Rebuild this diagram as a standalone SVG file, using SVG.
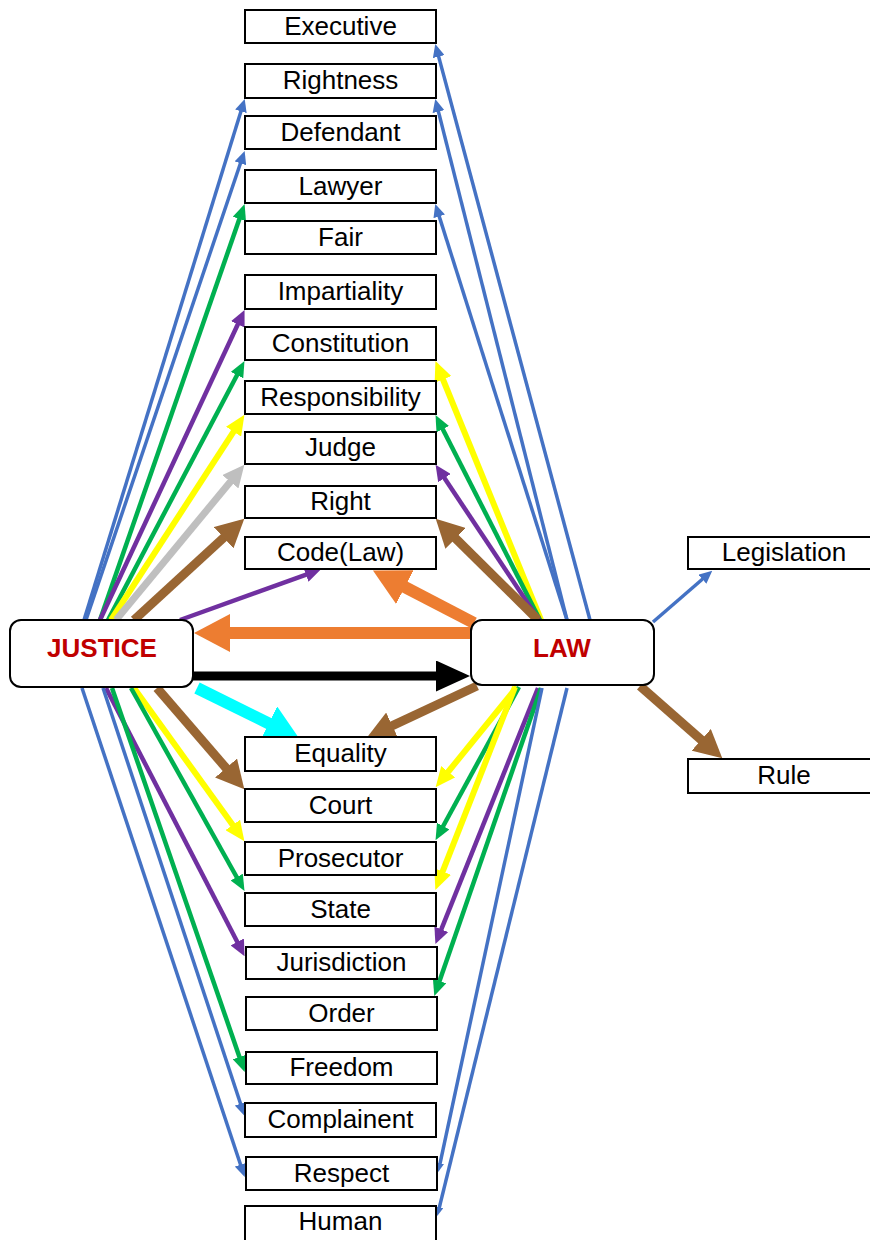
<svg xmlns="http://www.w3.org/2000/svg" width="870" height="1240" viewBox="0 0 870 1240">
<style>
.box{fill:#fff;stroke:#000;stroke-width:2}
.t{font-family:"Liberation Sans",Arial,sans-serif;font-size:26px;text-anchor:middle;fill:#000}
.ht{font-family:"Liberation Sans",Arial,sans-serif;font-size:26px;font-weight:bold;text-anchor:middle;fill:#C00000}
#connectors path{fill:none;stroke-linecap:butt}
.blue{stroke:#4472C4;stroke-width:3.5;marker-end:url(#mBlue)}
.blueS{stroke:#4472C4;stroke-width:3.5;marker-end:url(#mBlueS)}
.green{stroke:#00B050;stroke-width:4.5;marker-end:url(#mGreen)}
.purple{stroke:#7030A0;stroke-width:4.5;marker-end:url(#mPurple)}
.yellow{stroke:#FFFF00;stroke-width:6;marker-end:url(#mYellow)}
.gray{stroke:#BFBFBF;stroke-width:7;marker-end:url(#mGray)}
.brown{stroke:#996633;stroke-width:9;marker-end:url(#mBrown)}
.orange{stroke:#ED7D31;stroke-width:12;marker-end:url(#mOrange)}
.black{stroke:#000;stroke-width:9;marker-end:url(#mBlack)}
.cyan{stroke:#00FFFF;stroke-width:12;marker-end:url(#mCyan)}
</style>
<defs>
<marker id="mBlue" markerUnits="userSpaceOnUse" markerWidth="13" markerHeight="12" viewBox="0 0 13 12" refX="1" refY="6" orient="auto"><path d="M0,0 L13,6 L0,12 z" fill="#4472C4"/></marker>
<marker id="mBlueS" markerUnits="userSpaceOnUse" markerWidth="9" markerHeight="8" viewBox="0 0 9 8" refX="1" refY="4" orient="auto"><path d="M0,0 L9,4 L0,8 z" fill="#4472C4"/></marker>
<marker id="mGreen" markerUnits="userSpaceOnUse" markerWidth="16" markerHeight="14" viewBox="0 0 16 14" refX="1" refY="7" orient="auto"><path d="M0,0 L16,7 L0,14 z" fill="#00B050"/></marker>
<marker id="mPurple" markerUnits="userSpaceOnUse" markerWidth="16" markerHeight="15" viewBox="0 0 16 15" refX="1" refY="7.5" orient="auto"><path d="M0,0 L16,7.5 L0,15 z" fill="#7030A0"/></marker>
<marker id="mYellow" markerUnits="userSpaceOnUse" markerWidth="20" markerHeight="18" viewBox="0 0 20 18" refX="1" refY="9" orient="auto"><path d="M0,0 L20,9 L0,18 z" fill="#FFFF00"/></marker>
<marker id="mGray" markerUnits="userSpaceOnUse" markerWidth="22" markerHeight="21" viewBox="0 0 22 21" refX="1" refY="10.5" orient="auto"><path d="M0,0 L22,10.5 L0,21 z" fill="#BFBFBF"/></marker>
<marker id="mBrown" markerUnits="userSpaceOnUse" markerWidth="28" markerHeight="29" viewBox="0 0 28 29" refX="1" refY="14.5" orient="auto"><path d="M0,0 L28,14.5 L0,29 z" fill="#996633"/></marker>
<marker id="mOrange" markerUnits="userSpaceOnUse" markerWidth="36" markerHeight="38" viewBox="0 0 36 38" refX="1" refY="19" orient="auto"><path d="M0,0 L36,19 L0,38 z" fill="#ED7D31"/></marker>
<marker id="mBlack" markerUnits="userSpaceOnUse" markerWidth="34" markerHeight="31" viewBox="0 0 34 31" refX="1" refY="15.5" orient="auto"><path d="M0,0 L34,15.5 L0,31 z" fill="#000"/></marker>
<marker id="mCyan" markerUnits="userSpaceOnUse" markerWidth="34" markerHeight="38" viewBox="0 0 34 38" refX="1" refY="19" orient="auto"><path d="M0,0 L34,19 L0,38 z" fill="#00FFFF"/></marker>
</defs>
<rect width="870" height="1240" fill="#fff"/>
<g id="connectors">
<path class="blue" d="M84,620 L241.2,110.4"/>
<path class="blue" d="M86,620 L240.8,162.3"/>
<path class="green" d="M100,620 L239.7,218.1"/>
<path class="purple" d="M100,620 L238.2,323.5"/>
<path class="green" d="M108,620 L237.5,374.2"/>
<path class="yellow" d="M111,620 L234.1,430.8"/>
<path class="gray" d="M116,620 L231.0,481.0"/>
<path class="brown" d="M134,620 L224.4,537.0"/>
<path class="purple" d="M180,620 L306.9,574.4"/>
<path class="blue" d="M590,620 L438.4,55.6"/>
<path class="blue" d="M567,620 L438.2,110.6"/>
<path class="blue" d="M567,620 L438.9,215.4"/>
<path class="yellow" d="M541,620 L442.6,378.5"/>
<path class="green" d="M540,620 L442.3,428.3"/>
<path class="purple" d="M539,620 L443.9,477.3"/>
<path class="brown" d="M538,620 L454.9,537.7"/>
<path class="orange" d="M474,623 L404.0,586.6"/>
<path class="orange" d="M472,633 L229,633"/>
<path class="black" d="M193,676 L437,676"/>
<path class="blue" d="M653,622 L703.2,578.5"/>
<path class="brown" d="M640,686 L702.0,740.5"/>
<path class="cyan" d="M197,688 L269.6,723.8"/>
<path class="brown" d="M477,686 L391.4,726.1"/>
<path class="brown" d="M157,688 L226.7,768.8"/>
<path class="yellow" d="M134,688 L233.3,825.8"/>
<path class="green" d="M131,688 L237.2,878.0"/>
<path class="purple" d="M106,688 L237.7,942.8"/>
<path class="green" d="M112,688 L239.8,1057.9"/>
<path class="blue" d="M103,688 L240.9,1104.7"/>
<path class="blue" d="M82,688 L240.9,1165.7"/>
<path class="yellow" d="M517,687 L447.6,772.5"/>
<path class="green" d="M519,687 L442.7,827.0"/>
<path class="yellow" d="M515,687 L442.3,872.4"/>
<path class="purple" d="M538,688 L441.0,930.2"/>
<path class="green" d="M541,688 L439.2,981.9"/>
<path class="blueS" d="M542,688 L439.9,1164.2"/>
<path class="blueS" d="M567,688 L439.1,1208.3"/>
</g>
<g id="executive"><rect class="box" x="245" y="10" width="191" height="33"/><text class="t" x="340.5" y="35">Executive</text></g>
<g id="rightness"><rect class="box" x="245" y="64" width="191" height="34"/><text class="t" x="340.5" y="89">Rightness</text></g>
<g id="defendant"><rect class="box" x="245" y="116" width="191" height="33"/><text class="t" x="340.5" y="141">Defendant</text></g>
<g id="lawyer"><rect class="box" x="245" y="170" width="191" height="33"/><text class="t" x="340.5" y="195">Lawyer</text></g>
<g id="fair"><rect class="box" x="245" y="221" width="191" height="33"/><text class="t" x="340.5" y="246">Fair</text></g>
<g id="impartiality"><rect class="box" x="245" y="275" width="191" height="34"/><text class="t" x="340.5" y="300">Impartiality</text></g>
<g id="constitution"><rect class="box" x="245" y="327" width="191" height="33"/><text class="t" x="340.5" y="352">Constitution</text></g>
<g id="responsibility"><rect class="box" x="245" y="381" width="191" height="33"/><text class="t" x="340.5" y="406">Responsibility</text></g>
<g id="judge"><rect class="box" x="245" y="432" width="191" height="32"/><text class="t" x="340.5" y="456">Judge</text></g>
<g id="right"><rect class="box" x="245" y="486" width="191" height="32"/><text class="t" x="340.5" y="510">Right</text></g>
<g id="code"><rect class="box" x="245" y="537" width="191" height="32"/><text class="t" x="340.5" y="561">Code(Law)</text></g>
<g id="equality"><rect class="box" x="245" y="737" width="191" height="34"/><text class="t" x="340.5" y="762">Equality</text></g>
<g id="court"><rect class="box" x="245" y="789" width="191" height="33"/><text class="t" x="340.5" y="814">Court</text></g>
<g id="prosecutor"><rect class="box" x="245" y="842" width="191" height="33"/><text class="t" x="340.5" y="867">Prosecutor</text></g>
<g id="state"><rect class="box" x="245" y="893" width="191" height="33"/><text class="t" x="340.5" y="918">State</text></g>
<g id="jurisdiction"><rect class="box" x="246" y="947" width="191" height="32"/><text class="t" x="341.5" y="971">Jurisdiction</text></g>
<g id="order"><rect class="box" x="246" y="997" width="191" height="33"/><text class="t" x="341.5" y="1022">Order</text></g>
<g id="freedom"><rect class="box" x="246" y="1052" width="191" height="32"/><text class="t" x="341.5" y="1076">Freedom</text></g>
<g id="complainent"><rect class="box" x="245" y="1103" width="191" height="34"/><text class="t" x="340.5" y="1128">Complainent</text></g>
<g id="respect"><rect class="box" x="246" y="1157" width="191" height="33"/><text class="t" x="341.5" y="1182">Respect</text></g>
<g id="human"><rect class="box" x="245" y="1206" width="191" height="40"/><text class="t" x="340.5" y="1230">Human</text></g>
<g id="justice"><rect class="box" x="10" y="620" width="183" height="67" rx="11"/><text class="ht" x="102" y="657">JUSTICE</text></g>
<g id="law"><rect class="box" x="471" y="620" width="183" height="65" rx="11"/><text class="ht" x="562" y="657">LAW</text></g>
<g id="legislation"><rect class="box" x="688" y="537" width="192" height="32"/><text class="t" x="784" y="561">Legislation</text></g>
<g id="rule"><rect class="box" x="688" y="759" width="192" height="34"/><text class="t" x="784" y="784">Rule</text></g>
</svg>
